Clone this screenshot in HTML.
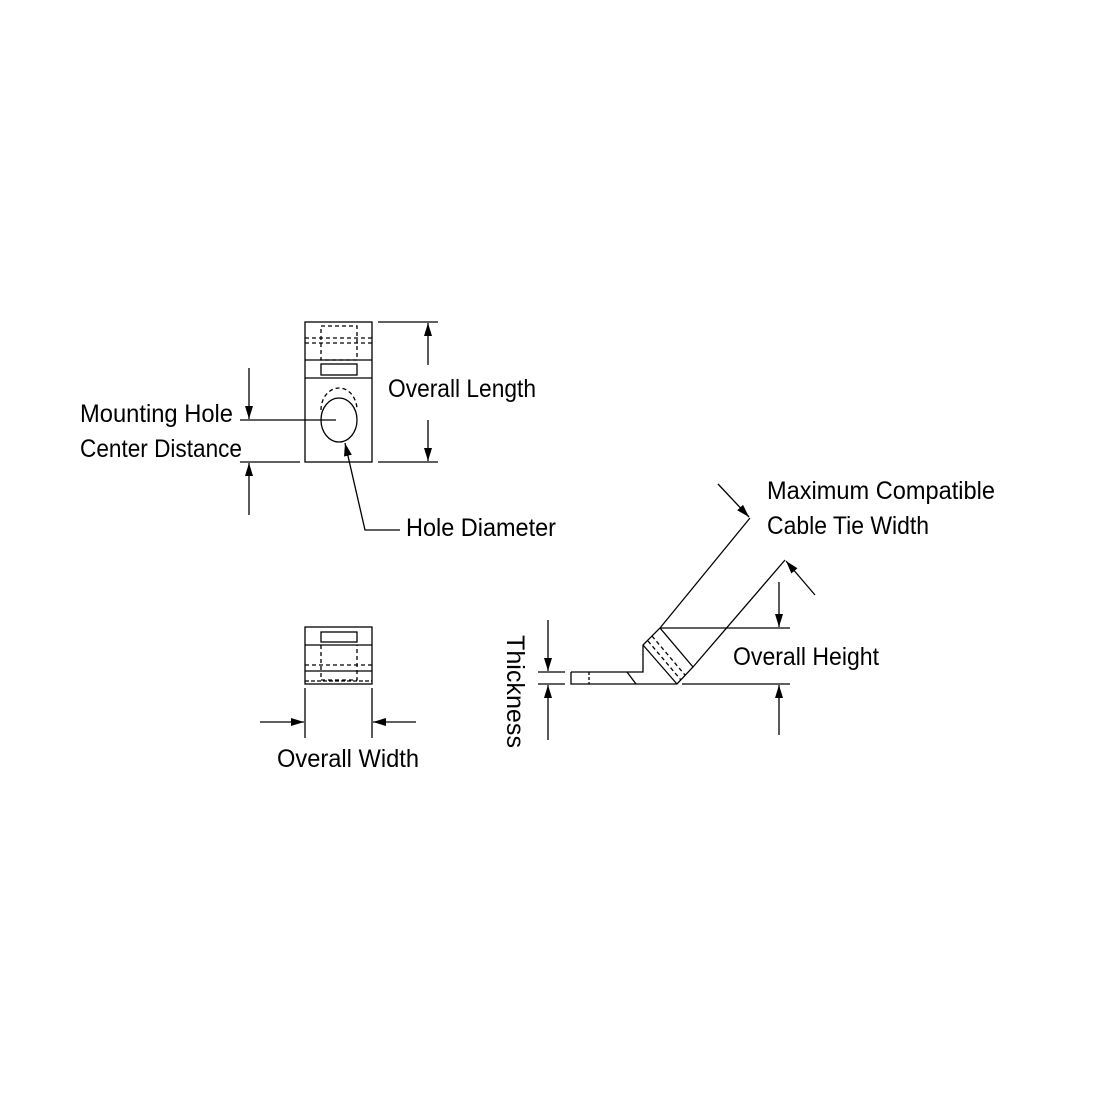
<!DOCTYPE html>
<html><head><meta charset="utf-8"><style>html,body{margin:0;padding:0;background:#fff}svg{display:block}</style></head>
<body>
<svg width="1100" height="1100" viewBox="0 0 1100 1100" xmlns="http://www.w3.org/2000/svg">
<defs>
<marker id="a" markerWidth="13" markerHeight="8" refX="13" refY="4" orient="auto" markerUnits="userSpaceOnUse"><path d="M0,0 L13,4 L0,8 Z" fill="#000"/></marker>
</defs>
<g stroke="#000" stroke-width="1.3" fill="none">
<rect x="305" y="322" width="67" height="140"/>
<line x1="305" y1="360" x2="372" y2="360"/>
<line x1="305" y1="378" x2="372" y2="378"/>
<rect x="321" y="326" width="36" height="34" stroke-dasharray="4,3"/>
<line x1="305" y1="338" x2="372" y2="338" stroke-dasharray="4,3"/>
<line x1="305" y1="343" x2="372" y2="343" stroke-dasharray="4,3"/>
<rect x="321" y="364" width="36" height="11"/>
<path d="M321,410 A18,22 0 0 1 357,410" stroke-dasharray="4,3"/>
<ellipse cx="339" cy="420" rx="18" ry="22"/>
<line x1="240" y1="420" x2="336" y2="420"/>
<line x1="240" y1="462" x2="300" y2="462"/>
<line x1="249" y1="368" x2="249" y2="419" marker-end="url(#a)"/>
<line x1="249" y1="515" x2="249" y2="463" marker-end="url(#a)"/>
<line x1="378" y1="322" x2="438" y2="322"/>
<line x1="378" y1="462" x2="438" y2="462"/>
<line x1="428" y1="365" x2="428" y2="323" marker-end="url(#a)"/>
<line x1="428" y1="420" x2="428" y2="461" marker-end="url(#a)"/>
<path d="M400,530 L365,530 L345,443" marker-end="url(#a)"/>
<rect x="305" y="627" width="67" height="57"/>
<rect x="321" y="632" width="36" height="10"/>
<line x1="305" y1="645" x2="372" y2="645"/>
<line x1="305" y1="671" x2="372" y2="671"/>
<line x1="305" y1="665" x2="372" y2="665" stroke-dasharray="4,3"/>
<line x1="305" y1="681" x2="372" y2="681" stroke-dasharray="4,2"/>
<path d="M321,645 L321,680 L357,680 L357,645" stroke-dasharray="4,3"/>
<line x1="305" y1="688" x2="305" y2="738"/>
<line x1="372" y1="688" x2="372" y2="738"/>
<line x1="260" y1="722" x2="304" y2="722" marker-end="url(#a)"/>
<line x1="416" y1="722" x2="373" y2="722" marker-end="url(#a)"/>
<path d="M571,672 L643,672 L643,645 L660,628 L750,518"/>
<path d="M571,672 L571,684 L677,684 L693,667 L785,560"/>
<line x1="589" y1="672" x2="589" y2="684" stroke-dasharray="3,2"/>
<line x1="627" y1="672" x2="636" y2="684"/>
<line x1="660" y1="628" x2="693" y2="667"/>
<line x1="643" y1="645" x2="677" y2="684"/>
<line x1="652" y1="636" x2="685" y2="675" stroke-dasharray="4,3"/>
<line x1="648" y1="641" x2="681" y2="680" stroke-dasharray="4,3"/>
<line x1="660" y1="628" x2="790" y2="628"/>
<line x1="682" y1="684" x2="790" y2="684"/>
<line x1="779" y1="582" x2="779" y2="627" marker-end="url(#a)"/>
<line x1="779" y1="735" x2="779" y2="685" marker-end="url(#a)"/>
<line x1="538" y1="672" x2="565" y2="672"/>
<line x1="538" y1="684" x2="565" y2="684"/>
<line x1="548" y1="620" x2="548" y2="671" marker-end="url(#a)"/>
<line x1="548" y1="740" x2="548" y2="685" marker-end="url(#a)"/>
<line x1="718" y1="484" x2="749" y2="517" marker-end="url(#a)"/>
<line x1="815" y1="595" x2="786" y2="561" marker-end="url(#a)"/>
</g>
<g font-family="Liberation Sans, sans-serif" font-size="25" fill="#000">
<text x="388" y="397" textLength="148" lengthAdjust="spacingAndGlyphs">Overall Length</text>
<text x="80" y="422" textLength="153" lengthAdjust="spacingAndGlyphs">Mounting Hole</text>
<text x="80" y="457" textLength="162" lengthAdjust="spacingAndGlyphs">Center Distance</text>
<text x="406" y="536" textLength="150" lengthAdjust="spacingAndGlyphs">Hole Diameter</text>
<text x="767" y="499" textLength="228" lengthAdjust="spacingAndGlyphs">Maximum Compatible</text>
<text x="767" y="534" textLength="162" lengthAdjust="spacingAndGlyphs">Cable Tie Width</text>
<text x="733" y="665" textLength="146" lengthAdjust="spacingAndGlyphs">Overall Height</text>
<text x="277" y="767" textLength="142" lengthAdjust="spacingAndGlyphs">Overall Width</text>
<text transform="translate(507,635) rotate(90)" x="0" y="0" textLength="113" lengthAdjust="spacingAndGlyphs">Thickness</text>
</g>
</svg>
</body></html>
